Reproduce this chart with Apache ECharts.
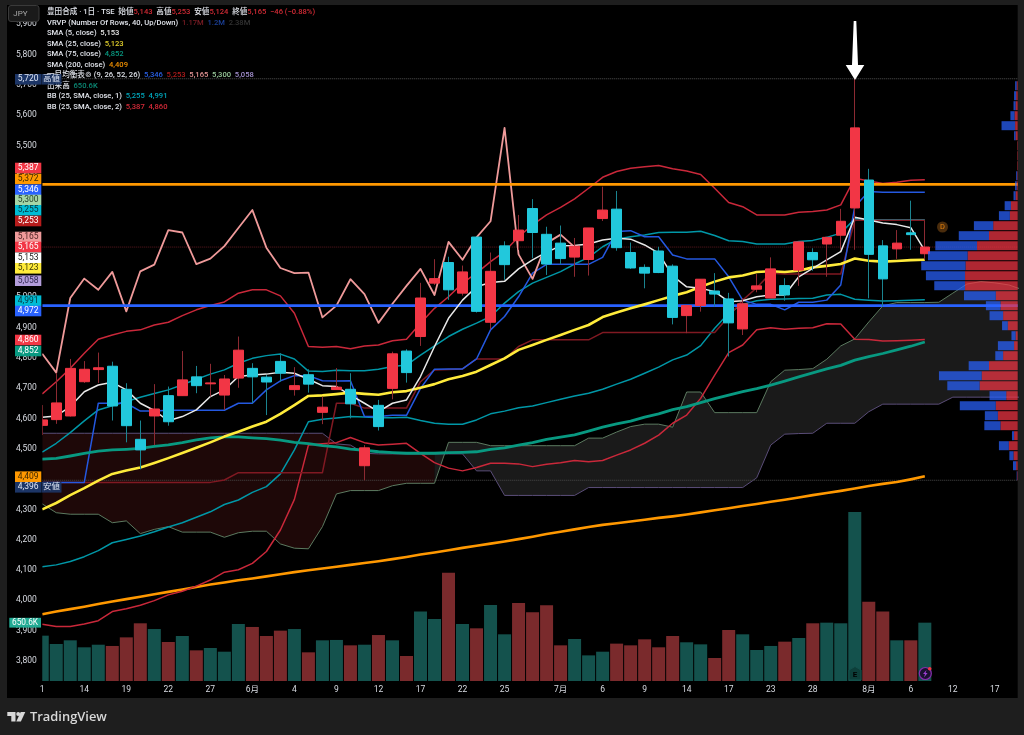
<!DOCTYPE html>
<html><head><meta charset="utf-8">
<style>html,body{margin:0;padding:0;background:#1e1e1e}#c{width:1024px;height:735px}</style>
<script src="https://cdn.jsdelivr.net/npm/echarts@6/dist/echarts.min.js"></script>
</head><body><div id="c"></div>
<script>
const opens=[4577,4596,4608,4721,4761,4772,4696,4531,4608,4675,4675,4737,4714,4677,4733,4765,4736,4788,4695,4744,4620,4695,4696,4444,4643,4699,4822,4870,5046,5114,5013,5198,4917,5169,5186,5292,5207,5178,5132,5124,5259,5290,5147,5098,5152,5102,4939,4972,5020,4994,4895,5026,4997,5038,5089,5147,5175,5204,5294,5386,5169,5159,5212,5143];
const closes=[4595,4651,4765,4762,4767,4641,4576,4496,4631,4589,4727,4708,4717,4730,4825,4737,4720,4749,4708,4713,4637,4703,4648,4503,4573,4813,4751,4997,5061,5024,5083,4953,5085,5107,5221,5213,5109,5127,5168,5228,5287,5163,5096,5079,5081,4933,4972,5059,5010,4915,4978,5037,5093,5007,5182,5123,5197,5250,5558,5141,5060,5178,5206,5165];
const lows=[4545,4582,4606,4717,4717,4593,4521,4432,4512,4576,4675,4683,4672,4628,4701,4650,4611,4721,4675,4685,4581,4695,4600,4396,4560,4663,4718,4839,5040,4991,5005,4949,4894,5057,5156,5128,5073,5109,5067,5071,5251,5153,5093,5029,5079,4910,4881,4952,4969,4804,4875,5016,4997,4988,5037,5087,5067,5156,5156,4996,4969,5126,5156,5124];
const highs=[4644,4750,4796,4789,4817,4787,4716,4593,4713,4705,4822,4773,4780,4743,4870,4782,4743,4815,4769,4762,4672,4766,4749,4512,4661,4820,4828,5047,5125,5133,5104,5198,5147,5184,5271,5323,5232,5236,5195,5228,5364,5350,5180,5108,5166,5108,4972,5059,5079,5014,4997,5076,5131,5062,5182,5161,5197,5291,5720,5423,5188,5221,5318,5253];
const volumes=[506,413,454,376,405,391,487,644,580,435,502,342,368,327,636,603,502,562,580,320,454,458,398,405,513,454,279,777,692,1209,636,588,848,521,870,766,844,398,469,286,327,417,398,465,376,502,432,409,257,569,521,346,391,439,480,644,651,644,1886,885,777,454,454,651];
const volumeUp=[0,0,0,0,0,1,1,1,0,1,0,1,0,0,0,1,1,1,0,1,0,0,1,0,1,0,1,0,0,1,0,1,0,0,1,1,1,1,0,0,0,1,1,1,1,1,0,0,1,1,0,0,0,1,0,1,0,0,0,1,1,0,1,0];
const sma5=[4604,4608,4639,4688,4710,4719,4694,4650,4626,4592,4606,4628,4672,4694,4738,4743,4746,4752,4749,4729,4708,4705,4677,4650,4622,4650,4661,4738,4837,4930,4990,5034,5048,5052,5093,5123,5148,5169,5170,5175,5188,5194,5191,5172,5145,5070,5034,5029,5018,4985,4988,5001,5007,5007,5067,5095,5123,5150,5263,5254,5244,5239,5229,5153];
const sma25=[4300,4321,4347,4370,4395,4417,4428,4438,4453,4469,4486,4503,4521,4540,4556,4573,4589,4615,4644,4674,4676,4680,4685,4681,4678,4686,4690,4701,4713,4729,4740,4754,4776,4798,4826,4842,4859,4875,4892,4908,4934,4949,4963,4976,4990,5004,5016,5034,5051,5065,5071,5083,5085,5083,5087,5098,5103,5109,5127,5120,5117,5119,5122,5123];
const sma75=[4466,4468,4476,4485,4492,4496,4498,4501,4508,4513,4520,4529,4536,4539,4539,4536,4533,4528,4521,4517,4510,4506,4499,4495,4490,4487,4485,4485,4485,4487,4488,4490,4498,4503,4512,4520,4531,4538,4546,4558,4571,4582,4591,4604,4615,4629,4639,4652,4665,4677,4688,4698,4710,4723,4737,4750,4763,4775,4792,4804,4814,4826,4838,4852];
const sma200=[3954,3963,3971,3979,3988,3996,4004,4012,4020,4028,4036,4044,4052,4059,4066,4072,4079,4086,4093,4099,4105,4111,4117,4123,4129,4136,4143,4151,4158,4165,4173,4180,4187,4194,4202,4210,4219,4226,4234,4242,4249,4254,4260,4266,4272,4277,4283,4290,4297,4304,4311,4318,4325,4332,4339,4347,4354,4361,4369,4377,4384,4390,4399,4409];
const tenkan=[4389,4389,4389,4389,4650,4650,4650,4624,4624,4627,4627,4627,4627,4627,4650,4650,4694,4724,4741,4741,4724,4723,4724,4606,4606,4610,4610,4699,4762,4763,4763,4796,4892,4936,5001,5079,5108,5108,5108,5108,5131,5216,5219,5199,5199,5139,5126,5126,5126,5067,4990,4976,4976,4958,4983,4983,4990,5040,5298,5348,5346,5346,5346,5346];
const kijun=[4389,4389,4389,4389,4389,4389,4389,4389,4389,4389,4389,4389,4389,4397,4421,4421,4421,4421,4421,4421,4421,4650,4650,4634,4634,4634,4634,4721,4760,4761,4763,4796,4796,4796,4837,4859,4859,4859,4859,4859,4883,4883,4883,4883,4883,4883,4883,4883,4883,4936,4990,5031,5079,5076,5076,5076,5076,5076,5253,5253,5253,5253,5253,5253];
const chikou=[4813,4751,4997,5061,5024,5083,4953,5085,5107,5221,5213,5109,5127,5168,5228,5287,5163,5096,5079,5081,4933,4972,5059,5010,4915,4978,5037,5093,5007,5182,5123,5197,5250,5558,5141,5060,5178,5206,5165];
const spanA=[4318,4289,4284,4284,4284,4256,4262,4220,4234,4243,4225,4225,4225,4208,4223,4228,4228,4186,4172,4170,4243,4351,4362,4362,4362,4378,4386,4386,4386,4521,4521,4521,4510,4510,4510,4510,4510,4510,4510,4535,4535,4555,4573,4581,4581,4571,4687,4687,4619,4619,4619,4619,4721,4759,4761,4764,4795,4839,4862,4918,4971,4982,4982,4982,4983,5013,5043,5051,5047,5040,5024];
const spanB=[4551,4551,4551,4551,4551,4551,4551,4551,4551,4551,4551,4551,4551,4551,4551,4551,4551,4551,4551,4551,4551,4516,4512,4485,4483,4483,4483,4483,4483,4483,4483,4427,4427,4346,4346,4346,4346,4346,4346,4372,4372,4372,4372,4372,4372,4372,4372,4372,4372,4372,4372,4404,4512,4548,4550,4551,4584,4584,4584,4622,4647,4647,4647,4647,4647,4670,4670,4670,4670,4670,4670];
const bb1Upper=[4489,4518,4553,4592,4628,4642,4656,4670,4682,4694,4711,4729,4746,4760,4782,4798,4807,4812,4796,4756,4755,4759,4757,4757,4762,4771,4776,4809,4839,4870,4894,4914,4936,4980,5018,5046,5065,5084,5109,5131,5166,5191,5199,5205,5213,5214,5214,5217,5203,5186,5183,5175,5175,5175,5183,5187,5197,5211,5258,5255,5255,5255,5255,5255];
const bb1Lower=[4111,4117,4128,4144,4164,4190,4201,4212,4226,4242,4256,4274,4292,4316,4331,4356,4375,4417,4496,4589,4597,4601,4606,4605,4602,4602,4604,4593,4584,4581,4581,4595,4615,4624,4635,4641,4652,4663,4674,4683,4696,4713,4729,4749,4769,4793,4809,4840,4897,4947,4976,4988,4993,4994,4995,4996,5007,5009,4993,4990,4987,4988,4990,4991];
const bb2Upper=[4681,4721,4765,4815,4861,4875,4887,4892,4908,4917,4939,4958,4972,4984,5013,5024,5024,5004,4947,4837,4835,4837,4830,4839,4842,4856,4861,4914,4963,5001,5046,5079,5117,5150,5199,5238,5271,5296,5324,5359,5395,5414,5425,5430,5434,5423,5416,5404,5359,5312,5298,5271,5271,5271,5280,5282,5287,5304,5392,5383,5375,5379,5385,5387];
const bb2Lower=[3921,3914,3914,3922,3933,3963,3972,3984,3999,4018,4030,4047,4067,4093,4101,4122,4161,4232,4333,4512,4516,4520,4537,4520,4512,4515,4518,4485,4454,4436,4427,4438,4452,4452,4450,4441,4449,4454,4461,4457,4461,4479,4496,4518,4545,4584,4611,4666,4743,4817,4842,4892,4899,4894,4897,4899,4912,4911,4861,4860,4855,4856,4858,4860];
const vpUp=[2,3,4,6,5,4,1,1,1,1,2,4,13,15,47,55,78,96,100,101,101,42,33,28,19,4,7,28,55,69,73,22,42,38,33,7,17,8,3,1];
const vpDown=[3,4,4,8,26,3,0,0,0,2,3,4,12,21,37,58,80,76,85,75,59,61,28,26,11,8,31,15,39,82,62,32,69,25,31,4,19,8,6,1];
const vpRows=vpUp.map((_,i)=>'r'+i);
const orangeLevel=5372, blueLevel=4972, highLevel=5720, lowLevel=4396, lastLevel=5165;
const yTicks=[3800,3900,4000,4100,4200,4300,4400,4500,4600,4700,4800,4900,5000,5100,5200,5300,5400,5500,5600,5700,5800,5900];
const xTickIdx=[0,3,6,9,12,15,18,21,24,27,30,33,37,40,43,46,49,52,55,59,62,65,68];
const xTickLabels=['1','14','19','22','27','6月','4','9','12','17','22','25','7月','6','9','14','17','23','28','8月','6','12','17'];
const badgeText=['5,387','5,372','5,346','5,300','5,255','5,253','5,165','5,165','5,153','5,123','5,058','4,991','4,972','4,860','4,852','4,409','4,396','5,720'];
const badgeBg=['#f23645','#ff9800','#2962ff','#a5d6a7','#00bcd4','#b71c1c','#ef9a9a','#f23645','#ffffff','#ffeb3b','#b39ddb','#00bcd4','#2962ff','#f23645','#089981','#ff9800','#1c3566','#1c3566'];
const badgeFg=['#fff','#3f2800','#fff','#1f3b24','#06343c','#fff','#4f2626','#fff','#222','#3f3b08','#2f2650','#06343c','#fff','#fff','#fff','#3f2800','#dfe6f5','#dfe6f5'];
const badgeY=[168,179,189.7,200,210.3,221,237,247,257.7,268.3,280.7,300.7,311,340,351,476.7,487.3,79.3];
const legendRows=[
 [['豊田合成 · 1日 · TSE  始値','#e0e3ea'],['5,143','#d02a34'],['  高値','#e0e3ea'],['5,253','#d02a34'],['  安値','#e0e3ea'],['5,124','#d02a34'],['  終値','#e0e3ea'],['5,165','#d02a34'],['  −46 (−0.88%)','#d02a34']],
 [['VRVP (Number Of Rows, 40, Up/Down)  ','#e0e3ea'],['1.17M','#7a1c24'],['  ','#000'],['1.2M','#1b3f96'],['  ','#000'],['2.38M','#333'] ],
 [['SMA (5, close)  ','#e0e3ea'],['5,153','#e8e8e8']],
 [['SMA (25, close)  ','#e0e3ea'],['5,123','#e2d02c']],
 [['SMA (75, close)  ','#e0e3ea'],['4,852','#089981']],
 [['SMA (200, close)  ','#e0e3ea'],['4,409','#f09000']],
 [['一目均衡表⊚ (9, 26, 52, 26)  ','#e0e3ea'],['5,346','#2a60e6'],['  ','#000'],['5,253','#b01c1c'],['  ','#000'],['5,165','#e69696'],['  ','#000'],['5,300','#98c89a'],['  ','#000'],['5,058','#a592d2']],
 [['出来高  ','#e0e3ea'],['650.6K','#0b8a76']],
 [['BB (25, SMA, close, 1)  ','#e0e3ea'],['5,255','#00a6bb'],['  ','#000'],['4,991','#00a6bb']],
 [['BB (25, SMA, close, 2)  ','#e0e3ea'],['5,387','#d42a38'],['  ','#000'],['4,860','#d42a38']]
];
const FONT="Roboto,'Noto Sans CJK JP',sans-serif";
const LEGEND_SIZE=7.6;
const legendY=[12,22.7,33.3,43.7,54.3,64.7,75.3,85.7,96.3,106.7];
const xy=a=>a.map((v,i)=>[i,v]);
const XMAX=69.63;
const line=(name,a,color,width,z,type)=>({type:'line',name,data:xy(a),showSymbol:false,symbol:'none',silent:true,z,clip:true,animation:false,
  lineStyle:{color,width,type:type||'solid',join:'round'}});
const level=(name,v,color,width,z,type)=>({...line(name,[],color,width,z,type),data:[[0,v],[XMAX,v]]});

// runs of the cloud that share one colour
const cloudRuns=[];
for(let i=0;i<spanA.length-1;i++){
  const up=spanA[i+1]>=spanB[i+1]?1:0;
  const last=cloudRuns[cloudRuns.length-1];
  if(last&&last[2]===up) last[1]=i+1; else cloudRuns.push([i,i+1,up]);
}

const graphics=[];
graphics.push({type:'rect',z:-50,silent:true,shape:{x:7,y:5,width:1010.7,height:693},style:{fill:'#000'}});
// price-scale column: covers the part of the first bar left of the plot
graphics.push({type:'rect',z:13,silent:true,shape:{x:7,y:5,width:35.25,height:693},style:{fill:'#000'}});
legendRows.forEach((row,r)=>{
  const rich={};let t='';
  row.forEach((seg,i)=>{rich['c'+i]={fill:seg[1],fontSize:LEGEND_SIZE,fontWeight:500,fontFamily:FONT};t+='{c'+i+'|'+seg[0]+'}';});
  graphics.push({type:'text',z:60+r,silent:true,x:47,y:legendY[r],style:{text:t,rich,verticalAlign:'middle',align:'left',fontSize:LEGEND_SIZE,fontFamily:FONT}});
});
badgeText.forEach((t,i)=>{
  graphics.push({type:'rect',z:90,silent:true,shape:{x:15,y:badgeY[i]-5.3,width:26.3,height:10.6},style:{fill:badgeBg[i]}});
  graphics.push({type:'text',z:91,silent:true,x:28.2,y:badgeY[i],style:{text:t,fill:badgeFg[i],font:'8.5px '+FONT,align:'center',verticalAlign:'middle'}});
});
[['高値',79.3],['安値',487.3]].forEach(k=>{
  graphics.push({type:'rect',z:90,silent:true,shape:{x:41.5,y:k[1]-5.3,width:20,height:10.6},style:{fill:'rgba(28,53,102,0.9)'}});
  graphics.push({type:'text',z:91,silent:true,x:51.5,y:k[1],style:{text:k[0],fill:'#dfe6f5',font:'8.5px '+FONT,align:'center',verticalAlign:'middle'}});
});
graphics.push({type:'rect',z:90,silent:true,shape:{x:9.3,y:617.8,width:31.7,height:9.8},style:{fill:'#22ab94'}});
graphics.push({type:'text',z:91,silent:true,x:25,y:622.7,style:{text:'650.6K',fill:'#fff',font:'8.3px '+FONT,align:'center',verticalAlign:'middle'}});
graphics.push({type:'rect',z:92,silent:true,shape:{x:8.5,y:5.5,width:30.5,height:16,r:2.5},style:{fill:'#1a1a1a',stroke:'#3a3a3a',lineWidth:1}});
graphics.push({type:'text',z:93,silent:true,x:20.5,y:14,style:{text:'JPY',fill:'#a8a8a8',font:'8px '+FONT,align:'center',verticalAlign:'middle'}});
graphics.push({type:'polygon',z:95,silent:true,shape:{points:[[853.7,21],[856.3,21],[858,65],[864.3,65],[855,80],[845.7,65],[852,65]]},style:{fill:'#fff'}});
graphics.push({type:'circle',z:60,silent:true,shape:{cx:942.5,cy:227,r:5.5},style:{fill:'#4a2c0c'}});
graphics.push({type:'text',z:61,silent:true,x:942.5,y:227,style:{text:'D',fill:'#e8830c',font:'7.5px '+FONT,align:'center',verticalAlign:'middle'}});
graphics.push({type:'polygon',z:60,silent:true,shape:{points:[[855,666.5],[861,670],[861,680],[849,680],[849,670]]},style:{fill:'#0d3f3a',stroke:'#14524d',lineWidth:1}});
graphics.push({type:'text',z:61,silent:true,x:855,y:674.5,style:{text:'E',fill:'#000',font:'bold 8px '+FONT,align:'center',verticalAlign:'middle'}});
graphics.push({type:'circle',z:60,silent:true,shape:{cx:925.3,cy:673.5,r:6},style:{fill:'#1b1030',stroke:'#8a2bb0',lineWidth:1.2}});
graphics.push({type:'polygon',z:61,silent:true,shape:{points:[[926.5,670],[923,674],[925,674],[924,677.5],[927.6,673],[925.6,673]]},style:{fill:'#9c3fd0'}});
graphics.push({type:'circle',z:62,silent:true,shape:{cx:929.7,cy:668.8,r:1.8},style:{fill:'#f23645'}});
// TradingView logo
graphics.push({type:'polygon',z:60,silent:true,shape:{points:[[7.3,712],[15.5,712],[15.5,721.5],[11.3,721.5],[11.3,716],[7.3,716]]},style:{fill:'#d8d8d8'}});
graphics.push({type:'circle',z:60,silent:true,shape:{cx:18.2,cy:714,r:2},style:{fill:'#d8d8d8'}});
graphics.push({type:'polygon',z:60,silent:true,shape:{points:[[20.7,712],[25.3,712],[20.9,721.5],[16.3,721.5]]},style:{fill:'#d8d8d8'}});
graphics.push({type:'text',z:60,silent:true,x:30,y:717.5,style:{text:'TradingView',fill:'#d8d8d8',font:'600 12.9px "Open Sans",sans-serif',align:'left',verticalAlign:'middle'}});

const series=[
 {type:'custom',name:'cloud',xAxisIndex:0,yAxisIndex:0,z:1,clip:true,silent:true,data:cloudRuns,encode:{x:[0,1]},
  renderItem:(p,api)=>{
    const from=api.value(0),to=api.value(1),up=api.value(2);
    const pts=[];
    for(let i=from;i<=to;i++) pts.push(api.coord([i,spanA[i]]));
    for(let i=to;i>=from;i--) pts.push(api.coord([i,spanB[i]]));
    return {type:'polygon',shape:{points:pts},style:{fill:up?'#1a1a1a':'#1e0808'}};
  }},
 {type:'bar',name:'volume',xAxisIndex:1,yAxisIndex:1,z:2,clip:true,barWidth:13,silent:true,
  data:volumes.map((v,i)=>({value:[i,v],itemStyle:{color:volumeUp[i]?'#7a2a2c':'#14524d'}}))},
 line('spanA',spanA,'#5c7a60',1,3),
 line('spanB',spanB,'#5a4d78',1,3),
 line('sma200',sma200,'#ff9800',2.6,4),
 line('bb1Upper',bb1Upper,'#0097a7',1.5,4),
 line('bb1Lower',bb1Lower,'#0097a7',1.5,4),
 line('bb2Upper',bb2Upper,'#c9283a',1.5,4),
 line('bb2Lower',bb2Lower,'#c9283a',1.5,4),
 line('kijun',kijun,'#801922',1.5,4),
 line('tenkan',tenkan,'#2458e0',1.5,4),
 line('chikou',chikou,'#ef9a9a',1.8,4),
 line('sma75',sma75,'#089981',2.8,5),
 level('orange',orangeLevel,'#ff9800',2.8,5),
 level('blue',blueLevel,'#2962ff',2.8,5),
 level('high',highLevel,'#555',1,3,'dotted'),
 level('low',lowLevel,'#4a4a4a',1,3,'dotted'),
 level('last',lastLevel,'#5e1a20',1,3,'dotted'),
 line('sma25',sma25,'#ffeb3b',2.6,6),
 line('sma5',sma5,'#e8e8e8',1.5,6),
 {type:'candlestick',name:'wick',xAxisIndex:0,yAxisIndex:0,z:9,silent:true,clip:true,barWidth:0.5,
  data:opens.map((o,i)=>[i,o,closes[i],lows[i],highs[i]]),
  itemStyle:{color:'#8c2a32',color0:'#1a8490',borderColor:'#8c2a32',borderColor0:'#1a8490',borderColorDoji:'#8c2a32',borderWidth:1}},
 {type:'candlestick',name:'body',xAxisIndex:0,yAxisIndex:0,z:10,silent:true,clip:true,barWidth:10,
  data:opens.map((o,i)=>[i,o,closes[i],Math.min(o,closes[i]),Math.max(o,closes[i])]),
  itemStyle:{color:'#f23645',color0:'#22c8dc',borderColor:'#f23645',borderColor0:'#22c8dc',borderColorDoji:'#c4303c',borderWidth:1}},
 {type:'bar',name:'vpUp',xAxisIndex:2,yAxisIndex:2,stack:'vp',z:12,silent:true,barWidth:9,data:vpUp,itemStyle:{color:'rgba(242,54,69,0.72)'}},
 {type:'bar',name:'vpDown',xAxisIndex:2,yAxisIndex:2,stack:'vp',z:12,silent:true,barWidth:9,data:vpDown,itemStyle:{color:'rgba(41,98,255,0.72)'}}
];
const chart=echarts.init(document.getElementById('c'),null,{renderer:'canvas'});
chart.setOption({
 backgroundColor:'#1e1e1e',animation:false,tooltip:{show:false},legend:{show:false},
 grid:[
  {left:42.25,right:6.3,top:5,height:692,show:false},
  {left:42.25,right:6.3,top:400,height:281,show:false},
  {left:697.7,width:320,top:80.7,height:400,show:false}
 ],
 xAxis:[
  {type:'value',gridIndex:0,min:0,max:XMAX,z:20,splitLine:{show:false},axisLine:{show:false},axisTick:{show:false},
   axisLabel:{inside:true,margin:3,color:'#d8dbe2',fontSize:8.5,fontFamily:FONT,customValues:xTickIdx,hideOverlap:false,
     showMinLabel:true,showMaxLabel:true,formatter:v=>xTickLabels[xTickIdx.indexOf(v)]??''}},
  {type:'value',gridIndex:1,min:0,max:XMAX,show:false},
  {type:'value',gridIndex:2,min:0,max:613.6,inverse:true,show:false}
 ],
 yAxis:[
  {type:'value',gridIndex:0,min:3681.3,max:5963.2,z:20,splitLine:{show:false},axisLine:{show:false},axisTick:{show:false},
   axisLabel:{margin:5.5,padding:[2,0,0,0],color:'#d8dbe2',fontSize:8.5,fontFamily:FONT,customValues:yTicks,showMinLabel:true,showMaxLabel:true,
     formatter:v=>String(v).replace(/(\d)(\d{3})$/,'$1,$2')}},
  {type:'value',gridIndex:1,min:0,max:3136,show:false},
  {type:'category',gridIndex:2,inverse:true,data:vpRows,show:false}
 ],
 series,
 graphic:{elements:graphics}
});
</script></body></html>
